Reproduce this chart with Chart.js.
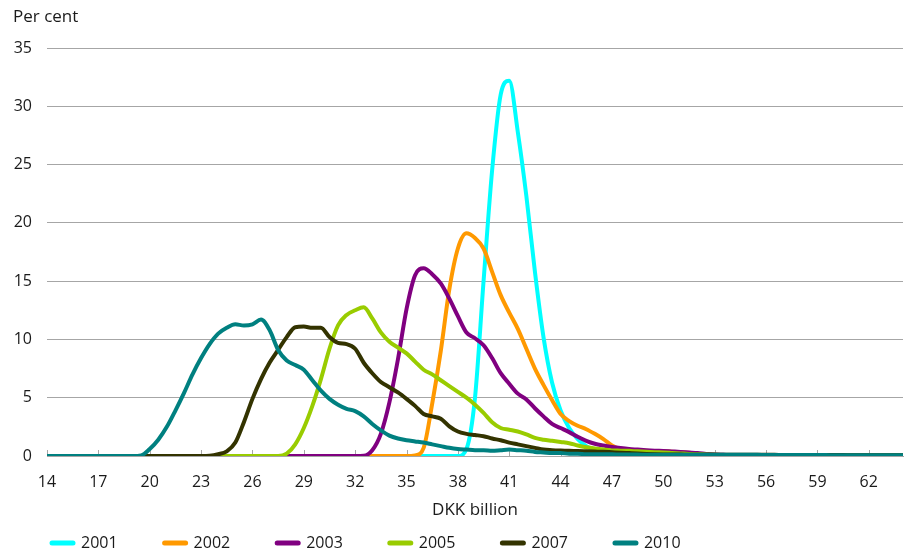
<!DOCTYPE html>
<html>
<head>
<meta charset="utf-8">
<script src="https://cdn.jsdelivr.net/npm/chart.js@4/dist/chart.umd.min.js"></script>
<style>
  html, body { margin: 0; padding: 0; background: #fff; }
  #wrap { width: 916px; height: 559px; }
</style>
</head>
<body>
<div id="wrap"><canvas id="chart" width="916" height="559"></canvas></div>
<script>
// Amount, DKK billion (x grid, half-billion steps)
const billions = [
  14, 14.5, 15, 15.5, 16, 16.5, 17, 17.5, 18, 18.5,
  19, 19.5, 20, 20.5, 21, 21.5, 22, 22.5, 23, 23.5,
  24, 24.5, 25, 25.5, 26, 26.5, 27, 27.5, 28, 28.5,
  29, 29.5, 30, 30.5, 31, 31.5, 32, 32.5, 33, 33.5,
  34, 34.5, 35, 35.5, 36, 36.5, 37, 37.5, 38, 38.5,
  39, 39.5, 40, 40.5, 41, 41.5, 42, 42.5, 43, 43.5,
  44, 44.5, 45, 45.5, 46, 46.5, 47, 47.5, 48, 48.5,
  49, 49.5, 50, 50.5, 51, 51.5, 52, 52.5, 53, 53.5,
  54, 54.5, 55, 55.5, 56, 56.5, 57, 57.5, 58, 58.5,
  59, 59.5, 60, 60.5, 61, 61.5, 62, 62.5, 63, 63.5,
  64
];

// Labelled positions on the amount axis
const xTicks = [14, 17, 20, 23, 26, 29, 32, 35, 38, 41, 44, 47, 50, 53, 56, 59, 62];

// Distribution per year, per cent
const share2001 = [
  0, 0, 0, 0, 0, 0, 0, 0, 0, 0,
  0, 0, 0, 0, 0, 0, 0, 0, 0, 0,
  0, 0, 0, 0, 0, 0, 0, 0, 0, 0,
  0, 0, 0, 0, 0, 0, 0, 0, 0, 0,
  0, 0, 0, 0, 0, 0, 0, 0, 0, 0.6,
  5.0, 15.0, 24.5, 31.0, 32.2, 27.8, 22.3, 15.8, 10.2, 6.3,
  3.9, 2.4, 1.45, 0.85, 0.5, 0.3, 0.2, 0.13, 0.09, 0.07,
  0.06, 0.05, 0.05, 0.05, 0.05, 0.05, 0.05, 0.04, 0.04, 0.04,
  0.04, 0.04, 0.03, 0.03, 0.03, 0.03, 0.03, 0.03, 0.03, 0.03,
  0.03, 0.03, 0.03, 0.03, 0.03, 0.03, 0.03, 0.03, 0.03, 0.03,
  0.03
];
const share2002 = [
  0, 0, 0, 0, 0, 0, 0, 0, 0, 0,
  0, 0, 0, 0, 0, 0, 0, 0, 0, 0,
  0, 0, 0, 0, 0, 0, 0, 0, 0, 0,
  0, 0, 0, 0, 0, 0, 0, 0, 0, 0,
  0, 0, 0, 0.05, 0.7, 4.5, 9.0, 14.3, 17.8, 19.1,
  18.7, 17.8, 15.8, 13.8, 12.3, 10.9, 9.2, 7.5, 6.1, 4.8,
  3.6, 3.0, 2.6, 2.3, 1.9, 1.45, 0.9, 0.6, 0.52, 0.48,
  0.45, 0.42, 0.4, 0.37, 0.32, 0.27, 0.2, 0.15, 0.1, 0.08,
  0.07, 0.06, 0.05, 0.05, 0.05, 0.05, 0.04, 0.04, 0.04, 0.04,
  0.04, 0.04, 0.03, 0.03, 0.03, 0.03, 0.03, 0.03, 0.03, 0.03,
  0.03
];
const share2003 = [
  0, 0, 0, 0, 0, 0, 0, 0, 0, 0,
  0, 0, 0, 0, 0, 0, 0, 0, 0, 0,
  0, 0, 0, 0, 0, 0, 0, 0, 0, 0,
  0, 0, 0, 0, 0, 0, 0, 0.02, 0.5, 1.9,
  4.6, 8.3, 12.6, 15.5, 16.1, 15.6, 14.8, 13.5, 12.0, 10.6,
  10.1, 9.5, 8.4, 7.1, 6.2, 5.35, 4.85, 4.1, 3.4, 2.75,
  2.4, 2.05, 1.65, 1.3, 1.05, 0.9, 0.78, 0.68, 0.6, 0.55,
  0.5, 0.46, 0.43, 0.39, 0.35, 0.3, 0.25, 0.18, 0.12, 0.1,
  0.08, 0.07, 0.06, 0.06, 0.05, 0.05, 0.05, 0.05, 0.05, 0.04,
  0.04, 0.04, 0.04, 0.04, 0.03, 0.03, 0.03, 0.03, 0.03, 0.03,
  0.03
];
const share2005 = [
  0, 0, 0, 0, 0, 0, 0, 0, 0, 0,
  0, 0, 0, 0, 0, 0, 0, 0, 0, 0,
  0, 0, 0, 0, 0, 0, 0, 0, 0.2, 1.0,
  2.4, 4.3, 6.6, 9.2, 11.2, 12.1, 12.5, 12.75, 11.8, 10.6,
  9.8, 9.3, 8.8, 8.1, 7.4, 7.0, 6.5, 6.0, 5.5, 5.0,
  4.4, 3.7, 2.9, 2.4, 2.25, 2.1, 1.85, 1.55, 1.4, 1.3,
  1.2, 1.1, 0.9, 0.75, 0.65, 0.55, 0.48, 0.46, 0.44, 0.4,
  0.37, 0.33, 0.3, 0.26, 0.22, 0.18, 0.15, 0.12, 0.1, 0.09,
  0.08, 0.08, 0.07, 0.07, 0.06, 0.06, 0.05, 0.05, 0.05, 0.05,
  0.05, 0.05, 0.04, 0.04, 0.04, 0.04, 0.04, 0.04, 0.04, 0.04,
  0.04
];
const share2007 = [
  0, 0, 0, 0, 0, 0, 0, 0, 0, 0,
  0, 0, 0, 0, 0, 0, 0, 0, 0, 0.02,
  0.15, 0.4, 1.15, 2.9, 4.9, 6.6, 8.0, 9.1, 10.2, 11.05,
  11.1, 11.0, 11.0, 10.2, 9.7, 9.6, 9.2, 8.0, 7.1, 6.35,
  5.9, 5.45, 4.9, 4.3, 3.6, 3.4, 3.2, 2.55, 2.1, 1.9,
  1.8, 1.7, 1.5, 1.35, 1.15, 1.0, 0.85, 0.7, 0.55, 0.5,
  0.47, 0.45, 0.42, 0.4, 0.38, 0.36, 0.32, 0.28, 0.25, 0.22,
  0.18, 0.15, 0.13, 0.12, 0.12, 0.11, 0.11, 0.1, 0.1, 0.1,
  0.1, 0.1, 0.1, 0.1, 0.1, 0.1, 0.09, 0.09, 0.09, 0.09,
  0.08, 0.08, 0.08, 0.08, 0.07, 0.07, 0.07, 0.07, 0.06, 0.06,
  0.06
];
const share2010 = [
  0, 0, 0, 0, 0, 0, 0, 0, 0, 0,
  0, 0.05, 0.6, 1.4, 2.5, 3.9, 5.4, 7.0, 8.4, 9.6,
  10.5, 11.0, 11.3, 11.2, 11.3, 11.7, 10.8, 9.1, 8.2, 7.8,
  7.4, 6.5, 5.6, 4.9, 4.4, 4.05, 3.85, 3.4, 2.75, 2.2,
  1.75, 1.5, 1.35, 1.25, 1.15, 1.0, 0.85, 0.7, 0.6, 0.55,
  0.5, 0.5, 0.45, 0.5, 0.55, 0.5, 0.45, 0.35, 0.3, 0.25,
  0.25, 0.2, 0.2, 0.15, 0.15, 0.15, 0.15, 0.12, 0.12, 0.12,
  0.1, 0.1, 0.1, 0.1, 0.1, 0.1, 0.1, 0.1, 0.1, 0.1,
  0.1, 0.1, 0.1, 0.1, 0.09, 0.09, 0.09, 0.09, 0.08, 0.08,
  0.08, 0.08, 0.07, 0.07, 0.07, 0.07, 0.06, 0.06, 0.06, 0.06,
  0.06
];

const seriesNames = ['2001', '2002', '2003', '2005', '2007', '2010'];
const seriesValues = [share2001, share2002, share2003, share2005, share2007, share2010];
const seriesColours = ['#00ffff', '#ff9900', '#800080', '#99cc00', '#333300', '#008080'];

const textColour = '#1a1a1a';
const gridColour = '#a6a6a6';
const fontFamily = "'Open Sans', 'Noto Sans', sans-serif";

Chart.defaults.font.family = fontFamily;
Chart.defaults.font.size = 16;
Chart.defaults.color = textColour;

// Later years are drawn on top, so they go first in the dataset list
const datasets = seriesNames.map((name, i) => ({
  label: name,
  data: seriesValues[i],
  borderColor: seriesColours[i],
  backgroundColor: seriesColours[i],
  borderWidth: 4,
  borderCapStyle: 'round',
  borderJoinStyle: 'round',
  pointRadius: 0,
  pointHoverRadius: 0,
  cubicInterpolationMode: 'monotone',
  fill: false
})).reverse();

// Unit caption above the value axis
const unitCaption = {
  id: 'unitCaption',
  afterDraw(chart) {
    const { ctx, chartArea } = chart;
    ctx.save();
    ctx.font = '17px ' + fontFamily;
    ctx.fillStyle = textColour;
    ctx.textAlign = 'left';
    ctx.textBaseline = 'middle';
    ctx.fillText('Per cent', chartArea.left - 34, chartArea.top - 31);
    ctx.restore();
  }
};

// Short tick marks standing up from the amount axis
const innerTicks = {
  id: 'innerTicks',
  beforeDatasetsDraw(chart) {
    const { ctx } = chart;
    const xs = chart.scales.x;
    const y0 = Math.round(chart.scales.y.getPixelForValue(0));
    ctx.save();
    ctx.strokeStyle = gridColour;
    ctx.lineWidth = 1;
    ctx.beginPath();
    xs.ticks.forEach(t => {
      const px = Math.round(xs.getPixelForValue(t.value)) + 0.5;
      ctx.moveTo(px, y0);
      ctx.lineTo(px, y0 - 6);
    });
    ctx.stroke();
    ctx.restore();
  }
};

new Chart(document.getElementById('chart'), {
  type: 'line',
  data: { labels: billions, datasets },
  options: {
    responsive: false,
    animation: false,
    events: [],
    layout: { padding: { left: 5, right: 13, top: 48, bottom: -2 } },
    scales: {
      x: {
        type: 'linear',
        min: 14,
        max: 64,
        afterBuildTicks(scale) { scale.ticks = xTicks.map(v => ({ value: v })); },
        afterFit(scale) { scale.height = 32; },
        grid: { display: false, drawTicks: false },
        border: { display: true, color: gridColour, width: 1 },
        ticks: { padding: 17, color: textColour, font: { size: 16 }, maxRotation: 0, autoSkip: false },
        title: { display: true, text: 'DKK billion', color: textColour, font: { size: 17 }, padding: { top: 0, bottom: -32.6 } }
      },
      y: {
        min: 0,
        max: 35,
        afterFit(scale) { scale.width = 42; },
        grid: { color: gridColour, lineWidth: 1, drawTicks: false },
        border: { display: false },
        ticks: { stepSize: 5, padding: 15, color: textColour, font: { size: 16 } }
      }
    },
    plugins: {
      legend: {
        position: 'bottom',
        align: 'start',
        labels: {
          usePointStyle: true,
          pointStyle: 'line',
          pointStyleWidth: 21,
          padding: 47,
          color: textColour,
          font: { size: 16 },
          sort: (a, b) => b.datasetIndex - a.datasetIndex,
          generateLabels(chart) {
            const items = Chart.defaults.plugins.legend.labels.generateLabels(chart);
            items.forEach(it => { it.lineWidth = 5; it.lineCap = 'round'; });
            return items;
          }
        }
      },
      tooltip: { enabled: false },
      title: { display: false }
    }
  },
  plugins: [unitCaption, innerTicks]
});
</script>
</body>
</html>
